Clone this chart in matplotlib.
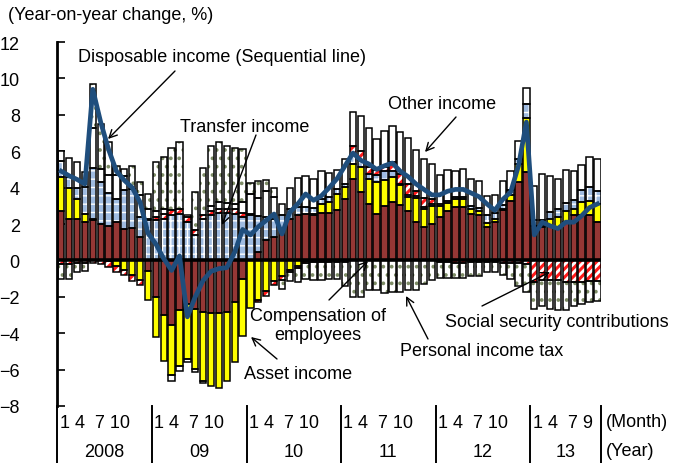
import numpy as np
import matplotlib
matplotlib.use('Agg')
import matplotlib.pyplot as plt
import matplotlib.transforms as mtransforms

plt.rcParams['font.family'] = ['Liberation Sans', 'DejaVu Sans']

# ---------------------------------------------------------------------------
# data (year-on-year change, %), monthly 2008/1 - 2013/9

years = ['2008', '09', '10', '11', '12', '13']
month_labels = ['1 4  7 10', '1 4  7 10', '1 4  7 10', '1 4  7 10', '1 4  7 10', '1 4  7 9']
months_per_year = [12, 12, 12, 12, 12, 9]

# compensation of employees
comp = [2.7, 2.3, 2.3, 2.1, 2.2, 2.0, 1.9, 2.1, 1.75, 1.8, 1.3, -0.6,
        -2.0, -3.0, -3.55, -2.7, -2.4, -2.65, -2.85, -2.9, -2.9, -2.85, -2.3, -1.0,
        0.0, 0.45, 1.1, 1.3, 1.7, 2.3, 2.5, 2.55, 2.5, 2.6, 2.6, 2.75,
        3.37, 4.5, 3.78, 3.1, 2.56, 3.0, 3.2, 3.06, 2.74, 2.12, 1.81, 2.0,
        2.38, 2.74, 2.92, 2.92, 2.55, 2.47, 1.82, 2.1, 2.75, 3.28, 4.29, 4.84,
        1.9, 1.82, 1.91, 1.85, 2.1, 2.47, 2.47, 2.47, 2.1]

# asset income
asset = [1.9, 1.7, 1.1, 0.45, 0.1, 0.0, -0.05, -0.3, -0.5, -0.8, -1.1, -1.55,
         -2.2, -2.5, -2.75, -3.1, -3.0, -3.3, -3.75, -4.0, -4.1, -3.75, -3.3, -3.15,
         -2.6, -2.2, -1.7, -1.15, -0.85, -0.5, -0.3, -0.05, 0.05, 0.5, 0.6, 0.9,
         0.65, 0.8, 1.33, 1.4, 1.73, 1.4, 1.4, 1.1, 0.75, 1.3, 1.0, 1.0,
         0.6, 0.4, 0.45, 0.45, 0.27, 0.27, 0.23, 0.18, 0.07, 0.3, 1.0, 3.0,
         0.0, 0.05, 0.37, 0.52, 0.64, 0.35, 0.72, 0.81, 1.0]

# transfer income
transfer = [0.85, 0.6, 0.6, 1.5, 2.8, 2.3, 1.8, 1.3, 2.1, 2.1, 1.1, 2.2,
            2.2, 2.3, 2.5, 2.55, 2.1, 1.4, 2.3, 2.5, 2.6, 2.6, 2.55, 2.4,
            2.5, 2.0, 1.3, 1.0, 0.8, 0.5, 0.45, 0.4, 0.35, 0.3, 0.3, 0.3,
            0.2, 0.5, 0.4, 0.25, 0.4, 0.5, 0.3, 0.05, 0.1, 0.1, 0.1, 0.1,
            0.1, 0.15, 0.1, 0.1, 0.15, 0.15, 0.45, 0.3, 0.2, 0.3, 0.3, 0.75,
            0.3, 0.35, 0.4, 0.45, 0.4, 0.5, 0.7, 0.75, 0.7]

# social security contributions
social = [-0.2, -0.2, -0.15, -0.15, -0.15, -0.2, -0.3, -0.35, -0.3, -0.35, -0.25, 0.1,
          0.2, 0.25, 0.25, 0.25, 0.3, 0.25, 0.2, 0.2, 0.25, 0.25, 0.25, 0.2,
          0.05, -0.1, -0.25, -0.2, -0.2, -0.15, -0.1, -0.1, -0.1, -0.1, -0.1, -0.1,
          -0.1, 0.5, 0.5, 0.4, 0.3, 0.25, 0.5, 0.55, 0.6, 0.3, 0.5, 0.3,
          -0.1, -0.1, -0.15, -0.15, -0.1, -0.1, -0.1, -0.1, -0.15, -0.15, -0.15, -0.2,
          -1.2, -1.1, -1.05, -1.1, -1.2, -1.2, -1.2, -1.15, -1.15]

# other income
other = [0.55, 1.0, 1.4, 0.8, 2.2, 0.7, 1.0, 1.3, 0.8, 0.0, 1.2, 0.5,
         0.3, 0.3, -0.3, -0.25, -0.2, -0.2, -0.15, 0.3, 0.35, 0.3, 0.3, 0.6,
         1.1, 1.0, 1.4, 1.2, 0.6, 1.2, 1.6, 1.7, 1.6, 1.5, 1.3, 1.0,
         1.35, 1.85, 1.9, 2.1, 1.7, 1.95, 2.0, 2.3, 2.55, 2.25, 2.15, 1.9,
         1.6, 1.7, 1.45, 1.55, 1.5, 1.5, 1.05, 1.0, 1.35, 1.05, 0.95, 0.9,
         1.9, 2.55, 1.98, 1.65, 1.8, 1.6, 1.35, 1.65, 1.75]

# personal income tax
tax = [-0.8, -0.8, -0.5, -0.45, 2.4, 2.5, 1.8, 0.5, 0.35, 1.3, 0.7, 0.85,
       2.7, 2.85, 3.45, 3.7, 0.1, 2.1, 2.6, 3.3, 3.3, 3.15, 3.1, 2.9,
       0.6, 0.9, 0.6, 0.5, -0.5, -0.5, -0.8, -0.85, -1.0, -1.0, -0.9, -0.9,
       -1.3, -2.0, -2.0, -1.65, -1.65, -1.8, -1.75, -1.75, -1.65, -1.6, -1.3, -1.1,
       -0.85, -0.85, -0.8, -0.8, -0.75, -0.75, -0.55, -0.55, -0.65, -0.85, -1.25, -1.55,
       -1.45, -1.4, -1.6, -1.65, -1.5, -1.3, -1.2, -1.15, -1.1]

# disposable income (sequential line)
disposable = [4.9, 4.65, 4.45, 4.2, 9.4, 7.6, 6.1, 4.9, 4.4, 4.0, 3.2, 1.5,
              0.9, 0.1, -0.55, 0.25, -3.1, -2.0, -1.1, -0.6, -0.45, -0.4, 0.45, 1.7,
              1.4, 1.85, 2.2, 2.55, 1.45, 2.65, 3.1, 3.65, 3.3, 3.55, 4.0, 4.5,
              5.2, 5.9, 5.5, 5.3, 5.0, 5.2, 5.35, 4.9, 4.6, 4.2, 3.9, 3.6,
              3.6, 3.8, 3.9, 3.9, 3.7, 3.5, 3.1, 2.75, 3.35, 3.75, 5.2, 7.6,
              1.4, 2.1, 1.9, 1.75, 2.1, 2.1, 2.45, 2.9, 3.1]

# ---------------------------------------------------------------------------
# figure setup

W, H = 676, 464
fig = plt.figure(figsize=(W / 100, H / 100), dpi=100)
ax = fig.add_axes([57.3 / W, (H - 407) / H, 544 / W, 364 / H])
fs = 13


def fpx(x, y):
    # pixel position (from top-left) -> figure fraction
    return (x / W, 1 - y / H)


x = np.arange(len(comp))
bw = 0.8

# stacking order: comp, asset, transfer, social, other, tax
# (values, face colour, hatch, hatch colour, hatch width)
series = [
    (comp, '#953735', None, None, 0),
    (asset, '#ffff00', None, None, 0),
    (transfer, '#9fbbe0', '++', 'white', 1.0),
    (social, 'white', '////', '#ff1a1a', 2.2),
    (other, 'white', None, None, 0),
    (tax, 'white', '..', '#7d8c66', 1.5),
]

pos_bottom = np.zeros(len(x))
neg_bottom = np.zeros(len(x))
for vals, fc, hatch, hc, hlw in series:
    v = np.array(vals, dtype=float)
    bottom = np.where(v >= 0, pos_bottom, neg_bottom)
    ax.bar(x, v, bw, bottom=bottom, color=fc, linewidth=0, zorder=2)
    if hatch is not None:
        with plt.rc_context({'hatch.linewidth': hlw}):
            ax.bar(x, v, bw, bottom=bottom, color='none', edgecolor=hc,
                   hatch=hatch, linewidth=0, zorder=2.1)
    ax.bar(x, v, bw, bottom=bottom, color='none', edgecolor='black',
           linewidth=1.1, zorder=2.2)
    pos_bottom = pos_bottom + np.where(v >= 0, v, 0)
    neg_bottom = neg_bottom + np.where(v < 0, v, 0)

ax.axhline(0, color='black', linewidth=2.6, zorder=3)

ax.plot(x, disposable, color='#1f4e7d', linewidth=3.4, zorder=4,
        solid_joinstyle='round')

# axes styling
ax.set_xlim(-0.5, len(x) - 0.5)
ax.set_ylim(-8, 12)
ax.set_yticks(np.arange(-8, 13, 2))
ax.set_xticks([])
for s in ['top', 'right', 'bottom']:
    ax.spines[s].set_visible(False)
ax.spines['left'].set_linewidth(2)
ax.tick_params(axis='y', direction='in', length=6, width=1.2, pad=27,
               labelsize=fs)
for lab in ax.get_yticklabels():
    lab.set_horizontalalignment('right')

# year separators and labels under the axis
trans = mtransforms.blended_transform_factory(ax.transData, ax.transAxes)
bounds = np.concatenate([[0], np.cumsum(months_per_year)]) - 0.5
for b in bounds:
    ax.plot([b, b], [0, -0.16], color='black', linewidth=1.4,
            transform=trans, clip_on=False)
for k in range(len(years)):
    ax.text(bounds[k] + 0.3, -0.044, month_labels[k], transform=trans,
            ha='left', va='center', fontsize=fs)
    ax.text((bounds[k] + bounds[k + 1]) / 2, -0.124, years[k], transform=trans,
            ha='center', va='center', fontsize=fs)
fig.text(*fpx(606, 423), '(Month)', ha='left', va='center', fontsize=fs)
fig.text(*fpx(606, 452), '(Year)', ha='left', va='center', fontsize=fs)

# titles and labels
fig.text(*fpx(8, 15), '(Year-on-year change, %)', ha='left', va='center',
         fontsize=fs)

arrow = dict(arrowstyle='->', color='black', lw=1.0,
             mutation_scale=14, shrinkA=0, shrinkB=0)
labels = [
    ('Disposable income (Sequential line)', (78, 58), 'left', (175, 72), (108, 140)),
    ('Transfer income', (180, 127), 'left', (256, 136), (222, 226)),
    ('Other income', (388, 105), 'left', (456, 118), (425, 153)),
    ('Compensation of\nemployees', (318, 326), 'center', (329, 301), (368, 262)),
    ('Asset income', (244, 375), 'left', (277, 360), (251, 338)),
    ('Social security contributions', (445, 323), 'left', (482, 307), (550, 273)),
    ('Personal income tax', (400, 352), 'left', (428, 340), (406, 297)),
]
for txt, (tx, ty), ha, start, end in labels:
    fig.text(*fpx(tx, ty), txt, ha=ha, va='center', fontsize=fs,
             multialignment='center', linespacing=1.15)
    ax.annotate('', xy=fpx(*end), xycoords='figure fraction',
                xytext=fpx(*start), textcoords='figure fraction',
                arrowprops=arrow, zorder=5)

fig.savefig('out.png', dpi=100)
